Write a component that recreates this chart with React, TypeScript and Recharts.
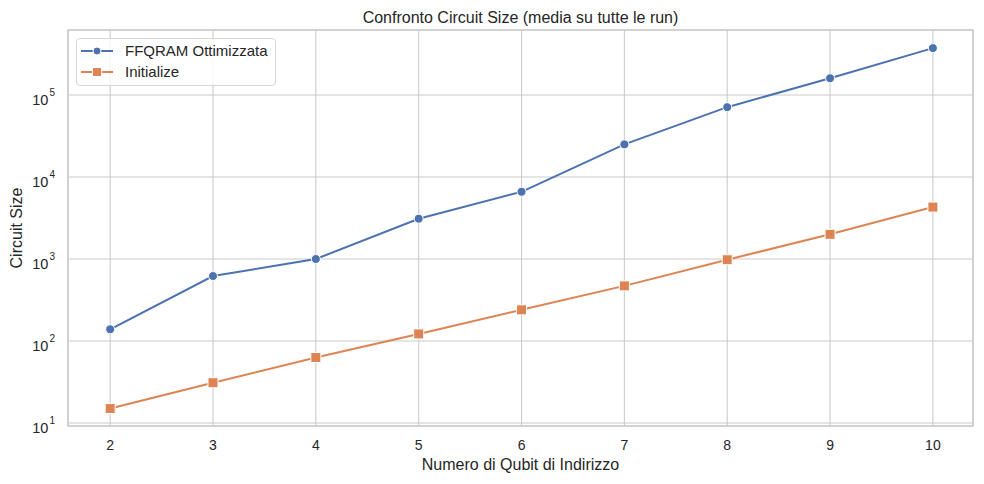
import React from 'react';
import { LineChart, Line, XAxis, YAxis, CartesianGrid, ReferenceArea } from 'recharts';

const qubits: number[] = [2, 3, 4, 5, 6, 7, 8, 9, 10];
const ffqram: number[] = [139, 620, 1000, 3100, 6600, 25000, 71000, 160000, 373000];
const initialize: number[] = [15, 31, 63, 122, 240, 470, 980, 2000, 4300];
const xTicks: number[] = [2, 3, 4, 5, 6, 7, 8, 9, 10];
const yTicks: number[] = [10, 100, 1000, 10000, 100000];

const data = qubits.map((q, i) => ({ q, ffqram: ffqram[i], initialize: initialize[i] }));

const BLUE = '#4c72b0';
const ORANGE = '#dd8452';
const TEXT = '#262626';
const FONT = '"Liberation Sans", Arial, sans-serif';

const YTick = (props: any) => {
  const { x, y, payload } = props;
  const exp = Math.round(Math.log10(payload.value));
  return (
    <text x={x - 13} y={y + 10} textAnchor="end" fill={TEXT} fontSize={14.5} fontFamily={FONT}>
      10
      <tspan dx={1} dy={-9} fontSize={10}>{exp}</tspan>
    </text>
  );
};

const SquareDot = (props: any) => {
  const { cx, cy } = props;
  if (cx == null || cy == null) return null;
  return <rect x={cx - 5} y={cy - 5} width={10} height={10} fill={ORANGE} stroke="#fff" strokeWidth={1} />;
};

const LegendBox = () => (
  <div
    style={{
      position: 'absolute',
      left: 76,
      top: 38,
      width: 200,
      height: 48,
      background: 'rgba(255,255,255,0.8)',
      border: '1px solid #d6d6d6',
      borderRadius: 4,
      fontFamily: FONT,
      fontSize: 15,
      color: TEXT,
      boxSizing: 'border-box',
      zIndex: 2,
    }}
  >
    <svg width={42} height={46} style={{ position: 'absolute', left: 0, top: 0 }}>
      <line x1={4} x2={36} y1={12} y2={12} stroke={BLUE} strokeWidth={2} />
      <circle cx={20} cy={12} r={4} fill={BLUE} stroke="#fff" strokeWidth={1} />
      <line x1={4} x2={36} y1={33} y2={33} stroke={ORANGE} strokeWidth={2} />
      <rect x={15.5} y={28.5} width={9} height={9} fill={ORANGE} stroke="#fff" strokeWidth={1} />
    </svg>
    <div style={{ position: 'absolute', left: 48, top: 3, whiteSpace: 'nowrap' }}>FFQRAM Ottimizzata</div>
    <div style={{ position: 'absolute', left: 48, top: 24, whiteSpace: 'nowrap' }}>Initialize</div>
  </div>
);

const labelStyle: React.CSSProperties = {
  position: 'absolute',
  fontFamily: FONT,
  fontSize: 16,
  color: TEXT,
  whiteSpace: 'nowrap',
};

const App: React.FC = () => {
  return (
    <div style={{ position: 'absolute', left: 0, top: 0, width: 984, height: 484, background: '#fff' }}>
      <div style={{ ...labelStyle, left: 68, width: 905, top: 9, textAlign: 'center' }}>
        Confronto Circuit Size (media su tutte le run)
      </div>
      <div style={{ ...labelStyle, left: 68, width: 905, top: 456, textAlign: 'center' }}>
        Numero di Qubit di Indirizzo
      </div>
      <div
        style={{
          ...labelStyle,
          left: 17,
          top: 228,
          transform: 'translate(-50%, -50%) rotate(-90deg)',
        }}
      >
        Circuit Size
      </div>
      <LegendBox />
      <LineChart
        width={984}
        height={484}
        data={data}
        margin={{ top: 30, right: 11, left: 0, bottom: 0 }}
      >
        <CartesianGrid stroke="#cccccc" strokeWidth={1.1} />
        <XAxis
          dataKey="q"
          type="number"
          domain={[1.59, 10.39]}
          ticks={xTicks}
          allowDataOverflow
          height={58}
          axisLine={false}
          tickLine={false}
          tickSize={0}
          tickMargin={14}
          tick={{ fill: TEXT, fontSize: 14, fontFamily: FONT }}
        />
        <YAxis
          scale="log"
          type="number"
          domain={[9.2, 620000]}
          ticks={yTicks}
          allowDataOverflow
          width={68}
          axisLine={false}
          tickLine={false}
          tickSize={0}
          tickMargin={0}
          tick={<YTick />}
        />
        <ReferenceArea
          x1={1.59}
          x2={10.39}
          y1={9.2}
          y2={620000}
          fill="none"
          fillOpacity={0}
          stroke="#cccccc"
          strokeWidth={1.5}
          strokeOpacity={1}
        />
        <Line
          type="linear"
          dataKey="ffqram"
          stroke={BLUE}
          strokeWidth={2}
          dot={{ r: 4.5, fill: BLUE, stroke: '#fff', strokeWidth: 1 }}
          activeDot={false}
          isAnimationActive={false}
        />
        <Line
          type="linear"
          dataKey="initialize"
          stroke={ORANGE}
          strokeWidth={2}
          dot={<SquareDot />}
          activeDot={false}
          isAnimationActive={false}
        />
      </LineChart>
    </div>
  );
};

export default App;
